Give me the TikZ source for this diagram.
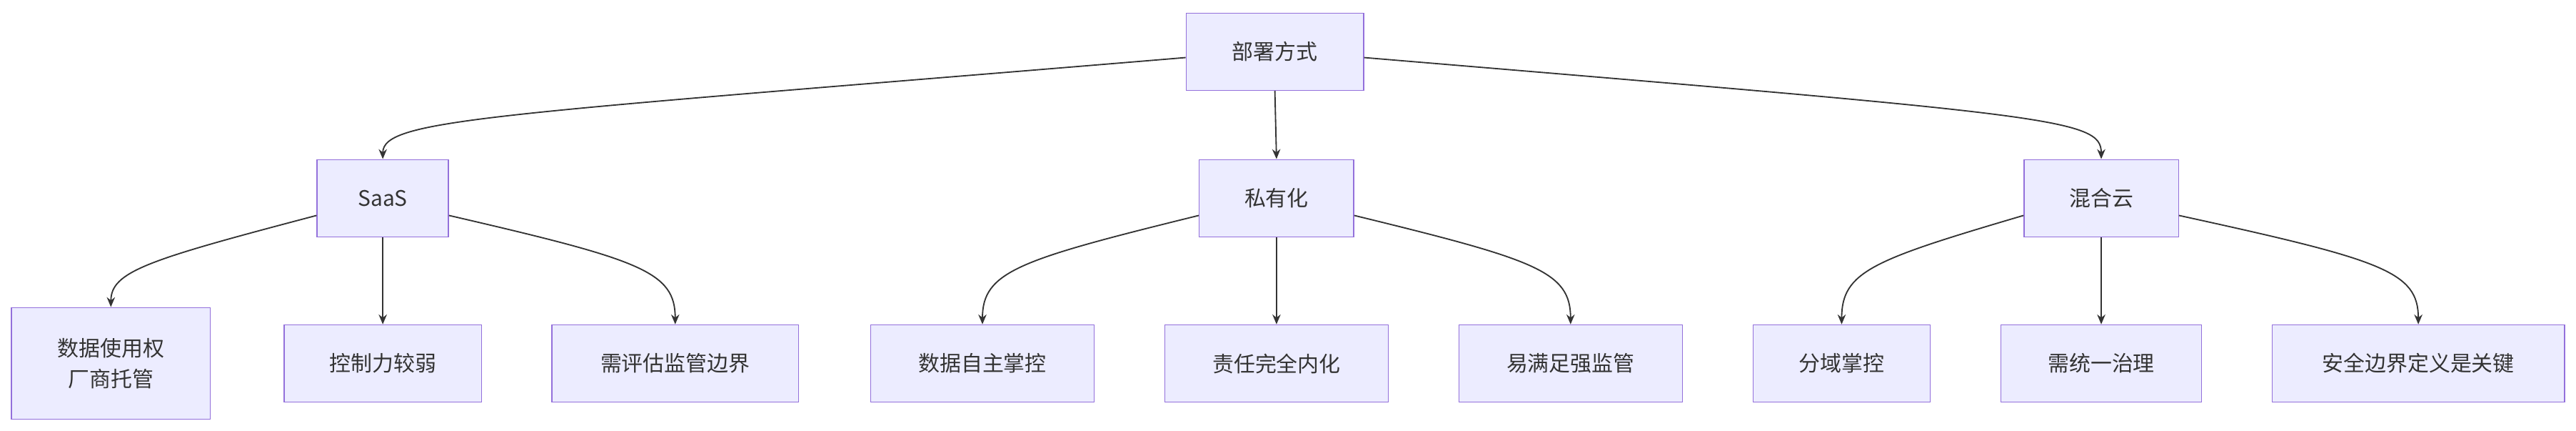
\documentclass[tikz,border=0pt]{standalone}
\usepackage{fontspec}
\setmainfont{Noto Sans CJK SC}
\usetikzlibrary{arrows.meta}
\definecolor{nf}{HTML}{ECECFF}
\definecolor{ns}{HTML}{9370DB}
\definecolor{ln}{HTML}{333333}
\begin{document}
\begin{tikzpicture}[x=1pt,y=-1pt,
 box/.style={draw=ns,fill=nf,line width=0.6pt,inner sep=0pt,align=center,font=\fontsize{13}{19}\selectfont,text=ln},
 ar/.style={draw=ln,line width=0.8pt,-{Stealth[length=6pt,width=5pt]}}]
\useasboundingbox (0,0) rectangle (1568,262);
\node[box,minimum width=108,minimum height=47] (r) at (776,31.5) {部署方式};
\node[box,minimum width=80,minimum height=47] (s) at (233,120.5) {SaaS};
\node[box,minimum width=94,minimum height=47] (p) at (777,120.5) {私有化};
\node[box,minimum width=94,minimum height=47] (h) at (1279,120.5) {混合云};
\node[box,minimum width=121,minimum height=68] (a1) at (67.5,221) {数据使用权\\厂商托管};
\node[box,minimum width=120,minimum height=47] (a2) at (233,221) {控制力较弱};
\node[box,minimum width=150,minimum height=47] (a3) at (411,221) {需评估监管边界};
\node[box,minimum width=136,minimum height=47] (b1) at (598,221) {数据自主掌控};
\node[box,minimum width=136,minimum height=47] (b2) at (777,221) {责任完全内化};
\node[box,minimum width=136,minimum height=47] (b3) at (956,221) {易满足强监管};
\node[box,minimum width=108,minimum height=47] (c1) at (1121,221) {分域掌控};
\node[box,minimum width=122,minimum height=47] (c2) at (1279,221) {需统一治理};
\node[box,minimum width=178,minimum height=47] (c3) at (1472,221) {安全边界定义是关键};
\draw[ar] (r.west|-0,35) .. controls (300,70) and (233,72) .. (s.north);
\draw[ar] (r.south) -- (p.north);
\draw[ar] (r.east|-0,35) .. controls (1250,70) and (1279,72) .. (h.north);
\draw[ar] (s.west|-0,131) .. controls (90,158) and (67.5,165) .. (a1.north);
\draw[ar] (s.south) -- (a2.north);
\draw[ar] (s.east|-0,131) .. controls (390,158) and (411,165) .. (a3.north);
\draw[ar] (p.west|-0,131) .. controls (620,158) and (598,165) .. (b1.north);
\draw[ar] (p.south) -- (b2.north);
\draw[ar] (p.east|-0,131) .. controls (935,158) and (956,165) .. (b3.north);
\draw[ar] (h.west|-0,131) .. controls (1140,158) and (1121,165) .. (c1.north);
\draw[ar] (h.south) -- (c2.north);
\draw[ar] (h.east|-0,131) .. controls (1450,158) and (1472,165) .. (c3.north);
\end{tikzpicture}
\end{document}
